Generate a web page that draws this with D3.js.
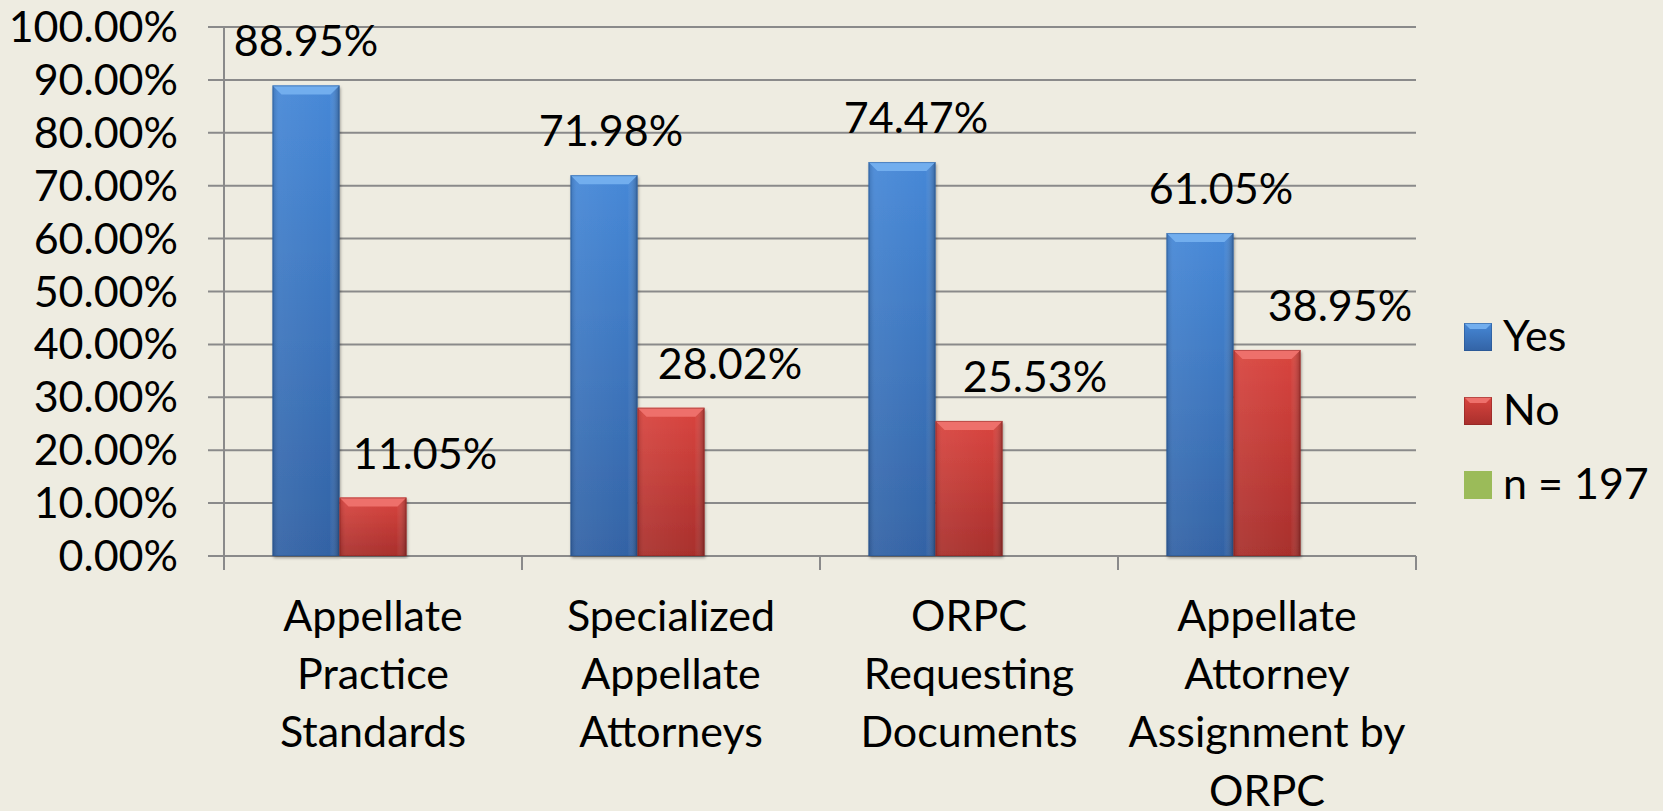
<!DOCTYPE html>
<html>
<head>
<meta charset="utf-8">
<script src="https://cdn.jsdelivr.net/npm/d3@7"></script>
<style>
    html, body { margin: 0; padding: 0; background: #eeece1; overflow: hidden; }
    svg { display: block; font-family: Lato, "Open Sans", sans-serif; }
    .grid line { stroke: #8a8a8a; stroke-width: 2; }
    text { fill: #000; }
</style>
</head>
<body>
<svg></svg>
<script>
// data
const categories = [
    "Appellate\nPractice\nStandards",
    "Specialized\nAppellate\nAttorneys",
    "ORPC\nRequesting\nDocuments",
    "Appellate\nAttorney\nAssignment by\nORPC"
];
const series = ["Yes", "No", "n = 197"];
const yes_values = [0.8895, 0.7198, 0.7447, 0.6105];
const no_values = [0.1105, 0.2802, 0.2553, 0.3895];
const n_values = [null, null, null, null]; // third series has no bars
const y_ticks = [0, 0.1, 0.2, 0.3, 0.4, 0.5, 0.6, 0.7, 0.8, 0.9, 1.0];

const width = 1663;
const height = 811;
const plot = { left: 224, right: 1416, top: 27, bottom: 556 };
const font_size = 43;

const svg = d3.select("svg")
    .attr("width", width)
    .attr("height", height);

const colours = {
    "Yes": { top: "#4688d7", bottom: "#3363a5", bevel: "#72aeee", dark: "#24508a" },
    "No": { top: "#d9453f", bottom: "#a82f2c", bevel: "#ee706b", dark: "#85211f" },
    "n = 197": { top: "#9bbb59", bottom: "#9bbb59", bevel: "#9bbb59", dark: "#9bbb59" }
};

// gradients
const defs = svg.append("defs");
series.forEach((s, k) => {
    const g = defs.append("linearGradient")
        .attr("id", "grad-" + k)
        .attr("x1", 0).attr("y1", 0).attr("x2", 0).attr("y2", 1);
    g.append("stop").attr("offset", "0%").attr("stop-color", colours[s].top);
    g.append("stop").attr("offset", "100%").attr("stop-color", colours[s].bottom);
});
const side = defs.append("linearGradient")
    .attr("id", "side")
    .attr("x1", 0).attr("y1", 0).attr("x2", 1).attr("y2", 0);
side.append("stop").attr("offset", "0%").attr("stop-color", "#000").attr("stop-opacity", 0.15);
side.append("stop").attr("offset", "10%").attr("stop-color", "#fff").attr("stop-opacity", 0.06);
side.append("stop").attr("offset", "85%").attr("stop-color", "#fff").attr("stop-opacity", 0);
side.append("stop").attr("offset", "100%").attr("stop-color", "#000").attr("stop-opacity", 0.28);

defs.append("filter")
    .attr("id", "shadow")
    .attr("x", "-20%").attr("y", "-5%").attr("width", "140%").attr("height", "110%")
    .append("feDropShadow")
    .attr("dx", 1).attr("dy", 2).attr("stdDeviation", 1.5)
    .attr("flood-color", "#000").attr("flood-opacity", 0.35);

const x0 = d3.scaleBand()
    .domain(categories)
    .range([plot.left, plot.right])
    .paddingInner(0)
    .paddingOuter(0);

const x1 = d3.scaleBand()
    .domain(series)
    .range([0, x0.bandwidth()])
    .paddingInner(0)
    .paddingOuter(0.724);

const y = d3.scaleLinear()
    .domain([0, 1])
    .range([plot.bottom, plot.top]);

// gridlines + y ticks
const grid = svg.append("g").attr("class", "grid");
grid.selectAll("line")
    .data(y_ticks)
    .enter()
    .append("line")
    .attr("x1", plot.left - 16)
    .attr("x2", plot.right)
    .attr("y1", d => y(d))
    .attr("y2", d => y(d));

svg.append("g")
    .selectAll("text")
    .data(y_ticks)
    .enter()
    .append("text")
    .attr("x", 178)
    .attr("y", d => y(d) + 15)
    .attr("text-anchor", "end")
    .style("font-size", font_size + "px")
    .text(d => d3.format(".2%")(d));

// axis lines
svg.append("line")
    .attr("x1", plot.left).attr("x2", plot.left)
    .attr("y1", plot.top).attr("y2", plot.bottom)
    .attr("stroke", "#8a8a8a").attr("stroke-width", 2);

const cat_ticks = categories.map(c => x0(c)).concat([plot.right]);
svg.append("g")
    .selectAll("line")
    .data(cat_ticks)
    .enter()
    .append("line")
    .attr("x1", d => d).attr("x2", d => d)
    .attr("y1", plot.bottom).attr("y2", plot.bottom + 14)
    .attr("stroke", "#8a8a8a").attr("stroke-width", 2);

// bars
const bar_data = [];
categories.forEach((c, i) => {
    bar_data.push({ cat: c, i: i, s: "Yes", k: 0, v: yes_values[i] });
    bar_data.push({ cat: c, i: i, s: "No", k: 1, v: no_values[i] });
    if (n_values[i] != null) bar_data.push({ cat: c, i: i, s: "n = 197", k: 2, v: n_values[i] });
});

const bevel = 9;
const bars = svg.append("g")
    .selectAll("g.bar")
    .data(bar_data)
    .enter()
    .append("g")
    .attr("class", "bar");

bars.append("rect")
    .attr("x", d => x0(d.cat) + x1(d.s))
    .attr("y", d => y(d.v))
    .attr("width", x1.bandwidth())
    .attr("height", d => y(0) - y(d.v))
    .attr("fill", d => "url(#grad-" + d.k + ")")
    .attr("filter", "url(#shadow)");

bars.append("rect")
    .attr("x", d => x0(d.cat) + x1(d.s))
    .attr("y", d => y(d.v))
    .attr("width", x1.bandwidth())
    .attr("height", d => y(0) - y(d.v))
    .attr("fill", "url(#side)");

// top bevel
bars.append("path")
    .attr("d", d => {
        const xl = x0(d.cat) + x1(d.s);
        const xr = xl + x1.bandwidth();
        const yt = y(d.v);
        return `M ${xl} ${yt} L ${xr} ${yt} L ${xr - bevel} ${yt + bevel} L ${xl + bevel} ${yt + bevel} Z`;
    })
    .attr("fill", d => colours[d.s].bevel);

bars.append("rect")
    .attr("x", d => x0(d.cat) + x1(d.s) + 0.5)
    .attr("y", d => y(d.v) + 0.5)
    .attr("width", x1.bandwidth() - 1)
    .attr("height", d => y(0) - y(d.v) - 1)
    .attr("fill", "none")
    .attr("stroke", d => colours[d.s].dark)
    .attr("stroke-opacity", 0.45)
    .attr("stroke-width", 1);

// value labels (sit a little right of the bars, drifting further right per category)
const label_dx = { "Yes": 0, "No": 52 };
const label_drift = 7;
svg.append("g")
    .selectAll("text")
    .data(bar_data.filter(d => d.k < 2))
    .enter()
    .append("text")
    .attr("x", d => x0(d.cat) + x1(d.s) + x1.bandwidth() / 2 + label_dx[d.s] + d.i * label_drift)
    .attr("y", d => y(d.v) - 29)
    .attr("text-anchor", "middle")
    .style("font-size", font_size + "px")
    .text(d => d3.format(".2%")(d.v));

// category labels
const cat_labels = svg.append("g")
    .selectAll("text")
    .data(categories)
    .enter()
    .append("text")
    .attr("text-anchor", "middle")
    .style("font-size", font_size + "px");

cat_labels.selectAll("tspan")
    .data(d => d.split("\n").map(t => ({ t: t, c: d })))
    .enter()
    .append("tspan")
    .attr("x", d => x0(d.c) + x0.bandwidth() / 2)
    .attr("y", (d, i) => 631 + i * 58.2)
    .text(d => d.t);

// legend
const legend = svg.append("g")
    .selectAll("g")
    .data(series)
    .enter()
    .append("g")
    .attr("transform", (d, i) => "translate(1464," + (323 + i * 74) + ")");

legend.append("rect")
    .attr("width", 28)
    .attr("height", 28)
    .attr("fill", (d, i) => "url(#grad-" + i + ")");

legend.filter((d, i) => i < 2)
    .append("path")
    .attr("d", "M 0 0 L 28 0 L 22 6 L 6 6 Z")
    .attr("fill", d => colours[d].bevel);

legend.filter((d, i) => i < 2)
    .append("rect")
    .attr("x", 0.5).attr("y", 0.5)
    .attr("width", 27).attr("height", 27)
    .attr("fill", "none")
    .attr("stroke", d => colours[d].dark)
    .attr("stroke-opacity", 0.5);

legend.append("text")
    .attr("x", 39)
    .attr("y", 28)
    .style("font-size", font_size + "px")
    .text(d => d);
</script>
</body>
</html>
